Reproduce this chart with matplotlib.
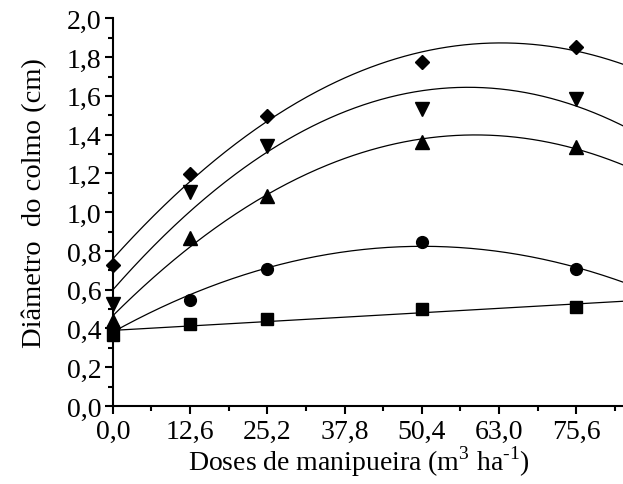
import matplotlib
matplotlib.use("Agg")
import matplotlib.pyplot as plt
import numpy as np
from matplotlib.ticker import MultipleLocator, FuncFormatter

plt.rcParams['font.family'] = ['Liberation Serif', 'DejaVu Serif']
plt.rcParams['mathtext.fontset'] = 'custom'
plt.rcParams['mathtext.rm'] = 'Liberation Serif'

doses = np.array([0.0, 12.6, 25.2, 50.4, 75.6])

# stem diameter (cm) per treatment
diam_square = [0.365, 0.425, 0.448, 0.499, 0.508]
diam_circle = [0.40, 0.547, 0.706, 0.847, 0.706]
diam_up = [0.44, 0.866, 1.081, 1.36, 1.334]
diam_down = [0.525, 1.105, 1.342, 1.532, 1.583]
diam_diamond = [0.726, 1.196, 1.497, 1.776, 1.850]

series = [
    (diam_square, 's', 8, 1),
    (diam_circle, 'o', 8.5, 2),
    (diam_up, '^', 9.5, 2),
    (diam_down, 'v', 9.5, 2),
    (diam_diamond, 'D', 7.5, 2),
]

fig = plt.figure(figsize=(6.23, 4.85), dpi=100)
ax = fig.add_axes([0.181, 0.161, 0.819, 0.799])

xs = np.linspace(0, 83.2, 300)
for vals, mk, ms, deg in series:
    coef = np.polyfit(doses, vals, deg)
    ax.plot(xs, np.polyval(coef, xs), color='black', lw=0.9)
    ax.plot(doses, vals, linestyle='none', marker=mk, ms=ms, color='black',
            clip_on=False, zorder=3)

ax.set_xlim(0, 83.2)
ax.set_ylim(0, 2.0)
ax.xaxis.set_major_locator(MultipleLocator(12.6))
ax.xaxis.set_minor_locator(MultipleLocator(6.3))
ax.yaxis.set_major_locator(MultipleLocator(0.2))
ax.yaxis.set_minor_locator(MultipleLocator(0.1))
comma = FuncFormatter(lambda v, p: f"{v:.1f}".replace('.', ','))
ax.xaxis.set_major_formatter(comma)
ax.yaxis.set_major_formatter(comma)

for s in ['top', 'right']:
    ax.spines[s].set_visible(False)
for s in ['left', 'bottom']:
    ax.spines[s].set_linewidth(1.5)
ax.tick_params(which='major', direction='out', length=6, width=1.5, labelsize=20)
ax.tick_params(which='minor', direction='out', length=3.5, width=1.5)
ax.tick_params(axis='x', pad=3)
ax.tick_params(axis='y', pad=2)

ax.set_xlabel(r'Doses de manipueira (m$^{\mathregular{3}}$ ha$^{\text{-1}}$)',
              fontsize=20, labelpad=0)
ax.xaxis.label.set_x(0.482)
ax.set_ylabel('Diâmetro  do colmo (cm)', fontsize=20.5, labelpad=14)
ax.yaxis.label.set_y(0.526)

fig.savefig('out.png', dpi=100)
